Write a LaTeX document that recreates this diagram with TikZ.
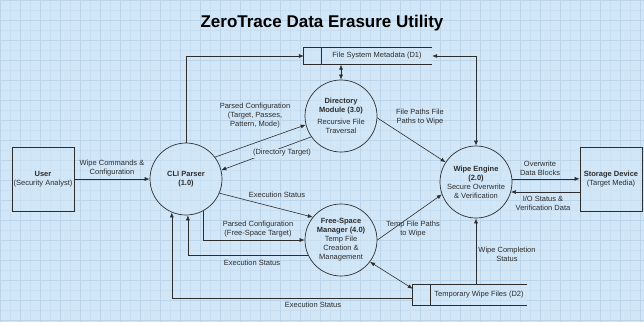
\documentclass[tikz,border=0pt]{standalone}
\usepackage{fontspec}
\setmainfont{Liberation Sans}
\usetikzlibrary{arrows.meta}
\definecolor{bgc}{RGB}{209,230,246}
\definecolor{gridc}{RGB}{188,212,234}
\definecolor{ink}{RGB}{45,45,45}
\begin{document}
\begin{tikzpicture}[x=1pt,y=-1pt,
  font=\fontsize{7.5}{9}\selectfont,
  proc/.style={circle,draw=ink,line width=0.7pt,fill=bgc,fill opacity=0.6,text opacity=1,minimum size=72pt,inner sep=0pt,align=center,text=ink},
  ent/.style={rectangle,draw=ink,line width=0.7pt,fill=bgc,fill opacity=0.6,text opacity=1,minimum width=62pt,minimum height=64pt,inner sep=0pt,align=center,text=ink},
  store/.style={rectangle,inner sep=0pt,fill=bgc,fill opacity=0.6},
  storeline/.style={draw=ink,line width=0.7pt},
  flow/.style={draw=ink,line width=0.6pt,-{Latex[length=5pt,width=4pt]}},
  biflow/.style={draw=ink,line width=0.6pt,{Latex[length=5pt,width=4pt]}-{Latex[length=5pt,width=4pt]}},
  lbl/.style={align=center,text=ink,inner sep=1pt}]

\useasboundingbox (0,0) rectangle (644,322);
\fill[bgc] (0,0) rectangle (644,322);
\draw[gridc!40!bgc,line width=0.3pt,step=10pt] (0,0) grid (644,322);
\draw[gridc,line width=0.4pt,step=20pt] (0,0) grid (644,322);

% title
\node[anchor=base,font=\bfseries\fontsize{17}{20}\selectfont,text=black] (title) at (322,27) {ZeroTrace Data Erasure Utility};

% external entities
\node[ent] (user) at (43,179) {\textbf{User}\\(Security Analyst)};
\node[ent] (sd) at (611,179) {\textbf{Storage Device}\\(Target Media)};

% processes
\node[proc] (cli) at (186,179) {\textbf{CLI Parser}\\\textbf{(1.0)}};
\node[proc] (dir) at (341,116) {\textbf{Directory}\\\textbf{Module (3.0)}\\[3pt]Recursive File\\Traversal};
\node[proc] (wipe) at (476,182) {\textbf{Wipe Engine}\\\textbf{(2.0)}\\Secure Overwrite\\\& Verification};
\node[proc] (fs) at (341,240) {\textbf{Free-Space}\\\textbf{Manager (4.0)}\\Temp File\\Creation \&\\Management};

% data stores
\node[store,minimum width=128pt,minimum height=17pt] (d1) at (368,56) {};
\draw[storeline] (d1.north east) -- (d1.north west) -- (d1.south west) -- (d1.south east);
\draw[storeline] ([xshift=18pt]d1.north west) -- ([xshift=18pt]d1.south west);
\node[lbl] (d1t) at (377,56) {File System Metadata (D1)};

\node[store,minimum width=114pt,minimum height=20pt] (d2) at (470,295) {};
\draw[storeline] (d2.north east) -- (d2.north west) -- (d2.south west) -- (d2.south east);
\draw[storeline] ([xshift=18pt]d2.north west) -- ([xshift=18pt]d2.south west);
\node[lbl] (d2t) at (479,295) {Temporary Wipe Files (D2)};

% flows
\draw[flow] (user.east) -- (cli.west);
\node[lbl] (l1) at (112,168) {Wipe Commands \&\\Configuration};

\draw[flow] (cli.north) |- (d1.west);
\draw[biflow] (dir.north |- d1.south) -- (dir.north);
\draw[biflow] (d1.east) -| (wipe.north);

\draw[flow] (cli.37) -- (dir.194);
\node[lbl] (l2) at (255,116) {Parsed Configuration\\(Target, Passes,\\Pattern, Mode)};

\draw[flow] (dir.215) -- (cli.14);
\node[lbl,fill=bgc] (l3) at (282,153) {(Directory Target)};

\draw[flow] (dir.-3) -- (wipe.147);
\node[lbl] (l4) at (420,117) {File Paths File\\Paths to Wipe};

\draw[flow] (cli.-23) -- (fs.141);
\node[lbl] (l5) at (277,195) {Execution Status};

\draw[flow] (cli.298) |- (fs.west);
\node[lbl] (l6) at (258,229) {Parsed Configuration\\(Free-Space Target)};

\draw[flow] (fs.205) -| (cli.273);
\node[lbl] (l7) at (252,263) {Execution Status};

\draw[flow] ([yshift=-3pt]d2.west) -| (cli.247);
\node[lbl] (l8) at (313,305) {Execution Status};

\draw[biflow] (fs.-37) -- ([yshift=-4pt]d2.north west);

\draw[flow] (fs.east) -- (wipe.200);
\node[lbl] (l9) at (413,229) {Temp File Paths\\to Wipe};

\draw[flow] (wipe.south |- d2.north) -- (wipe.south);
\node[lbl] (l10) at (507,254) {Wipe Completion\\Status};

\draw[flow] (wipe.5) -- (wipe.5 -| sd.west);
\node[lbl] (l11) at (540,168) {Overwrite\\Data Blocks};

\draw[flow] (wipe.-16 -| sd.west) -- (wipe.-16);
\node[lbl] (l12) at (543,203) {I/O Status \&\\Verification Data};
\end{tikzpicture}
\end{document}
